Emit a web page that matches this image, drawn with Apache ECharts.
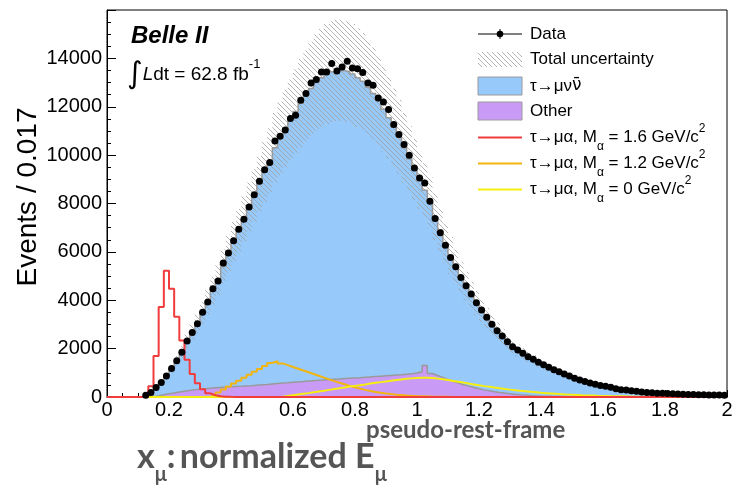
<!DOCTYPE html>
<html><head><meta charset="utf-8">
<script src="https://cdn.jsdelivr.net/npm/echarts@6/dist/echarts.min.js"></script>
<style>html,body{margin:0;padding:0;background:#fff}#c{width:732px;height:485px}</style>
</head><body><div id="c"></div>
<script>
const xMin = 0, xMax = 2, nBins = 120;
const xTickLabels = ['0','0.2','0.4','0.6','0.8','1','1.2','1.4','1.6','1.8','2'];

const dataCounts = [0,0,0,0,0,0,0,70,190,395, 600,868,1175,1500,1850,2320,2670,3030,3500,3925, 4475,4800,5540,5950,6456,6939,7352,7860,8365,8922, 9400,9694,10587,10781,11041,11512,11648,12268,12544,12982, 13122,13437,13437,13784,13478,13643,13879,13602,13576,13411, 12982,12887,12363,12198,11883,11264,10851,10438,9996,9471, 9058,8852,8096,7381,6786,6278,5770,5382,4944,4597, 4254,3895,3594,3292,3003,2739,2520,2284,2078,1941, 1805,1665,1560,1440,1330,1230,1130,1040,950,870, 780,700,640,575,530,480,440,400,340,300, 285,260,235,210,190,175,160,150,140,130, 120,115,108,100,95,90,85,80,78,72];

const mcTotal = [0,0,0,0,0,0,10,60,180,390, 600,870,1170,1490,1860,2290,2660,3040,3480,3930, 4400,4860,5400,5900,6400,6880,7350,7850,8330,8820, 9300,9760,10300,10700,11100,11450,11800,12150,12450,12750, 13000,13200,13350,13450,13500,13500,13450,13350,13200,13050, 12800,12550,12250,11900,11550,11150,10750,10300,9850,9400, 8950,8550,8050,7450,6900,6350,5850,5400,4950,4580, 4220,3880,3570,3270,2990,2730,2500,2270,2080,1920, 1780,1650,1540,1420,1310,1210,1115,1025,940,860, 775,700,630,570,520,470,430,390,340,305, 280,255,230,208,190,172,158,147,137,127, 118,112,105,98,92,87,82,78,75,70];

const mcUncert = [0,0,0,0,0,0,2,8,23,51, 78,113,152,194,242,298,346,395,452,511, 572,632,702,767,832,894,956,1021,1083,1147, 1255,1347,1442,1519,1598,1672,1746,1823,1880,1938, 1989,2033,2069,2085,2093,2093,2085,2069,2033,1997, 1946,1895,1838,1761,1686,1606,1527,1442,1359,1269, 1190,1112,1047,969,897,826,761,702,644,595, 549,504,464,425,389,355,325,295,270,250, 231,215,200,185,170,157,145,133,122,112, 101,91,82,74,68,61,56,51,44,40, 36,33,30,27,25,22,21,19,18,17, 15,15,14,13,12,11,11,10,10,9];

const otherBkg = [0,0,0,0,0,0,0,0,20,50, 90,130,170,210,240,270,300,320,340,360, 380,395,410,420,430,440,455,470,490,505, 520,540,560,575,590,610,625,640,660,675, 690,705,720,735,745,760,775,790,800,815, 830,845,860,875,890,905,920,940,960,990, 1040,1300,970,890,810,730,650,580,510,450, 390,340,295,255,220,190,162,138,115,96, 80,65,53,43,35,28,22,18,14,11, 9,7,6,5,4,3,3,2,2,1, 0,0,0,0,0,0,0,0,0,0, 0,0,0,0,0,0,0,0,0,0];

const sigM16 = [0,0,0,0,0,0,0,30,440,1690, 3720,5220,4480,3320,2340,1540,950,566,318,150, 70,35,15,8,4,0,0,0,0,0, 0,0,0,0,0,0,0,0,0,0, 0,0,0,0,0,0,0,0,0,0, 0,0,0,0,0,0,0,0,0,0, 0,0,0,0,0,0,0,0,0,0, 0,0,0,0,0,0,0,0,0,0, 0,0,0,0,0,0,0,0,0,0, 0,0,0,0,0,0,0,0,0,0, 0,0,0,0,0,0,0,0,0,0, 0,0,0,0,0,0,0,0,0,0];

const sigM12 = [0,0,0,0,0,0,0,0,0,0, 0,0,0,0,0,0,0,0,0,10, 70,190,312,432,555,677,797,919,1039,1161, 1283,1405,1480,1390,1316,1242,1170,1096,1022,950, 876,800,730,655,590,525,460,400,345,295, 250,210,175,145,120,98,80,65,52,42, 33,26,20,15,11,8,5,3,0,0, 0,0,0,0,0,0,0,0,0,0, 0,0,0,0,0,0,0,0,0,0, 0,0,0,0,0,0,0,0,0,0, 0,0,0,0,0,0,0,0,0,0, 0,0,0,0,0,0,0,0,0,0];

const sigM0 = [0,0,0,0,0,0,0,0,0,0, 0,0,0,0,0,0,0,0,0,0, 0,0,0,0,0,0,0,0,0,0, 0,0,0,10,40,70,100,130,160,195, 230,260,295,330,360,395,430,460,490,520, 555,585,615,645,675,700,725,750,770,790, 800,800,785,760,730,700,665,630,595,555, 520,485,450,420,390,360,330,305,280,255, 235,215,195,175,160,145,130,118,105,95, 85,75,67,60,52,45,40,35,30,26, 22,18,15,12,10,8,6,5,4,3, 3,2,2,1,1,0,0,0,0,0];

const colBlue = '#97c9fa', colPurple = '#c99bf7', colRed = '#f03c3c', colOrange = '#f2b50f', colYellow = '#f5ee10', colOutline = '#9a9a9a';
const FONT = '"Liberation Sans", Arial, sans-serif';

const binW = (xMax - xMin) / nBins;
function stepPts(vals) {
  const pts = vals.map((v, i) => [xMin + i * binW, v]);
  pts.push([xMax, vals[vals.length - 1]]);
  return pts;
}
function hatchCanvas() {
  const p = 5, c = document.createElement('canvas');
  c.width = p; c.height = p;
  const g = c.getContext('2d');
  g.strokeStyle = '#a0a0a0'; g.lineWidth = 0.8;
  g.beginPath();
  g.moveTo(-1, -1); g.lineTo(p + 1, p + 1);
  g.moveTo(-1, p - 1); g.lineTo(1, p + 1);
  g.moveTo(p - 1, -1); g.lineTo(p + 1, 1);
  g.stroke();
  return c;
}
const hatch = hatchCanvas();
const hatchFill = { image: hatch, repeat: 'repeat' };

const scatterData = [];
dataCounts.forEach((v, i) => { if (v > 0) scatterData.push([xMin + (i + 0.5) * binW, v]); });

function histLine(name, vals, color, z) {
  return { name, type: 'line', data: stepPts(vals), step: 'end', symbol: 'none', silent: true, z,
    lineStyle: { color, width: 2 } };
}

const legRich = {
  t: { fontSize: 17, fontFamily: FONT, lineHeight: 30, color: '#000' },
  nb: { fontSize: 17, fontFamily: 'DejaVu Sans', lineHeight: 30, color: '#000' },
  s: { fontSize: 12, fontFamily: FONT, lineHeight: 14, verticalAlign: 'bottom', color: '#000' },
  p: { fontSize: 12, fontFamily: FONT, lineHeight: 14, verticalAlign: 'top', color: '#000' }
};
const LX0 = 478, LX1 = 522, LT = 530;
function legText(y, text) {
  return { type: 'text', x: LT, y, style: { text, rich: legRich, font: '17px ' + FONT, fill: '#000', verticalAlign: 'middle', align: 'left' }, z: 100 };
}
function legLine(y, color) {
  return { type: 'line', shape: { x1: LX0, y1: y, x2: LX1, y2: y }, style: { stroke: color, lineWidth: 2 }, z: 100 };
}

const chart = echarts.init(document.getElementById('c'), null, { renderer: 'canvas' });
chart.setOption({
  animation: false,
  textStyle: { fontFamily: FONT },
  grid: { left: 107, right: 5, top: 10, bottom: 88, show: true, borderColor: '#000', borderWidth: 1, backgroundColor: 'rgba(0,0,0,0)', containLabel: false, outerBoundsMode: 'none' },
  xAxis: {
    type: 'value', min: xMin, max: xMax, interval: 0.2,
    axisLine: { show: true, lineStyle: { color: '#000', width: 1 } },
    axisTick: { show: true, inside: true, length: 7, lineStyle: { color: '#000', width: 1 } },
    minorTick: { show: true, splitNumber: 4, length: 4, lineStyle: { color: '#000', width: 1 } },
    splitLine: { show: false }, minorSplitLine: { show: false },
    axisLabel: { color: '#000', fontSize: 20, fontFamily: FONT, margin: 3,
      formatter: (v) => xTickLabels[Math.round(v / 0.2)] }
  },
  yAxis: {
    type: 'value', min: 0, max: 16000, interval: 2000,
    axisLine: { show: true, lineStyle: { color: '#000', width: 1 } },
    axisTick: { show: true, inside: true, length: 9, lineStyle: { color: '#000', width: 1 } },
    minorTick: { show: true, splitNumber: 4, length: 4, lineStyle: { color: '#000', width: 1 } },
    splitLine: { show: false }, minorSplitLine: { show: false },
    axisLabel: { color: '#000', fontSize: 20, fontFamily: FONT, margin: 5, showMaxLabel: false,
      formatter: (v) => String(Math.round(v)) }
  },
  series: [
    { name: 'tau->mu nu nu', type: 'line', data: stepPts(mcTotal), step: 'end', symbol: 'none', silent: true, z: 1,
      lineStyle: { color: colOutline, width: 1.5 }, areaStyle: { color: colBlue, opacity: 1 } },
    { name: 'Other', type: 'line', data: stepPts(otherBkg), step: 'end', symbol: 'none', silent: true, z: 2,
      lineStyle: { color: colOutline, width: 1.5 }, areaStyle: { color: colPurple, opacity: 1 } },
    { name: 'Total uncertainty', type: 'custom', z: 3, silent: true, data: [[0]],
      renderItem: function (params, api) {
        if (params.dataIndex !== 0) return;
        const up = [], lo = [];
        for (let i = 0; i < nBins; i++) {
          const xl = xMin + i * binW, xr = xl + binW;
          up.push(api.coord([xl, mcTotal[i] + mcUncert[i]]), api.coord([xr, mcTotal[i] + mcUncert[i]]));
          lo.push(api.coord([xl, Math.max(0, mcTotal[i] - mcUncert[i])]), api.coord([xr, Math.max(0, mcTotal[i] - mcUncert[i])]));
        }
        return { type: 'polygon', shape: { points: up.concat(lo.reverse()) }, style: { fill: hatchFill, stroke: null } };
      } },
    histLine('M=1.2', sigM12, colOrange, 4),
    histLine('M=0', sigM0, colYellow, 4),
    histLine('M=1.6', sigM16, colRed, 5),
    { name: 'Data', type: 'scatter', data: scatterData, symbol: 'circle', symbolSize: 7, silent: true, z: 10,
      itemStyle: { color: '#000', opacity: 1 } }
  ],
  graphic: [
    { type: 'text', x: 131, y: 36.5, style: { text: 'Belle II', font: 'italic bold 24px ' + FONT, fill: '#000', verticalAlign: 'middle' }, z: 100 },
    { type: 'text', x: 127, y: 75, z: 100, style: { text: '{i|∫}{l|L}{t|dt = 62.8 fb}{p|-1}', verticalAlign: 'middle', fill: '#000', font: '19px ' + FONT,
      rich: { i: { fontSize: 30, fontFamily: 'DejaVu Sans', lineHeight: 34, color: '#000' },
              l: { fontSize: 19, fontStyle: 'italic', fontFamily: FONT, lineHeight: 26, color: '#000' },
              t: { fontSize: 19, fontFamily: FONT, lineHeight: 26, color: '#000' },
              p: { fontSize: 13, fontFamily: FONT, lineHeight: 14, verticalAlign: 'top', color: '#000' } } } },
    { type: 'text', x: 28, y: 197, rotation: Math.PI / 2, z: 100, style: { text: 'Events / 0.017', font: '28px ' + FONT, fill: '#000', align: 'center', verticalAlign: 'middle' } },
    { type: 'text', x: 137, y: 457, z: 100, style: { text: '{m|x}{s|μ}{m|:\u2009normalized E}{s|μ}', verticalAlign: 'middle', fill: '#555',
      rich: { m: { fontSize: 34, fontWeight: 'bold', fontFamily: 'Lato', lineHeight: 56, color: '#555' },
              s: { fontSize: 20, fontWeight: 'bold', fontFamily: 'Lato', lineHeight: 20, verticalAlign: 'bottom', color: '#555' } } } },
    { type: 'text', x: 366, y: 430, z: 100, style: { text: 'pseudo-rest-frame', font: 'bold 24px Lato', fill: '#555', verticalAlign: 'middle' } },
    // legend
    { type: 'line', shape: { x1: LX0, y1: 34, x2: LX1, y2: 34 }, style: { stroke: '#000', lineWidth: 1 }, z: 100 },
    { type: 'line', shape: { x1: 500, y1: 29, x2: 500, y2: 39 }, style: { stroke: '#000', lineWidth: 1 }, z: 100 },
    { type: 'circle', shape: { cx: 500, cy: 34, r: 3.3 }, style: { fill: '#000' }, z: 101 },
    legText(34, '{t|Data}'),
    { type: 'rect', shape: { x: LX0, y: 52, width: LX1 - LX0, height: 15 }, style: { fill: hatchFill }, z: 100 },
    legText(59.5, '{t|Total uncertainty}'),
    { type: 'rect', shape: { x: LX0, y: 77, width: LX1 - LX0, height: 18 }, style: { fill: colBlue, stroke: colOutline, lineWidth: 1 }, z: 100 },
    legText(86, '{t|τ→μν}{nb|ν\u0304}'),
    { type: 'rect', shape: { x: LX0, y: 102, width: LX1 - LX0, height: 18 }, style: { fill: colPurple, stroke: colOutline, lineWidth: 1 }, z: 100 },
    legText(111, '{t|Other}'),
    legLine(137.5, colRed),
    legText(137.5, '{t|τ→μα, M}{s|α}{t| = 1.6 GeV/c}{p|2}'),
    legLine(163.5, colOrange),
    legText(163.5, '{t|τ→μα, M}{s|α}{t| = 1.2 GeV/c}{p|2}'),
    legLine(189.5, colYellow),
    legText(189.5, '{t|τ→μα, M}{s|α}{t| = 0 GeV/c}{p|2}')
  ]
});
</script>
</body></html>
